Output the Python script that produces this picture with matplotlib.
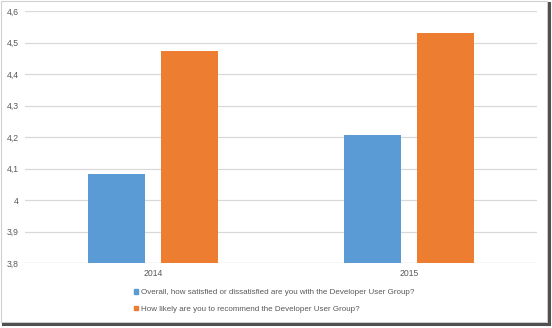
import matplotlib.pyplot as plt
import numpy as np
from matplotlib.patches import Rectangle
from matplotlib.lines import Line2D

plt.rcParams['font.family'] = ['Liberation Sans', 'DejaVu Sans']

years = ['2014', '2015']
satisfied = [4.083, 4.207]
recommend = [4.474, 4.529]
series_names = ['Overall, how satisfied or dissatisfied are you with the Developer User Group?',
                'How likely are you to recommend the Developer User Group?']
yticks = [3.8, 3.9, 4.0, 4.1, 4.2, 4.3, 4.4, 4.5, 4.6]
ytick_labels = ['3,8', '3,9', '4', '4,1', '4,2', '4,3', '4,4', '4,5', '4,6']

blue = '#5b9bd5'
orange = '#ed7d31'

W, H = 552, 328
fig = plt.figure(figsize=(W / 100, H / 100), dpi=100)
ax = fig.add_axes([25 / W, 1 - 263 / H, 512 / W, 252 / H])

x = np.arange(len(years))
w = 0.223
ax.bar(x - 0.142, satisfied, w, color=blue, zorder=3)
ax.bar(x + 0.142, recommend, w, color=orange, zorder=3)

ax.set_xlim(-0.5, 1.5)
ax.set_ylim(3.8, 4.6)
ax.set_yticks(yticks)
ax.set_yticklabels(ytick_labels)
ax.set_xticks(x)
ax.set_xticklabels(years)
ax.tick_params(length=0, labelsize=6.2, colors='#595959', pad=4)
ax.tick_params(axis='y', pad=4.5)
ax.grid(axis='y', color='#d9d9d9', linewidth=0.9, zorder=0)
for s in ax.spines.values():
    s.set_visible(False)
ax.axhline(3.8, color='#d9d9d9', linewidth=0.9, zorder=1)

handles = [Rectangle((0, 0), 1, 1, color=blue), Rectangle((0, 0), 1, 1, color=orange)]
fig.legend(handles, series_names, loc='upper left', bbox_to_anchor=(134 / W, 1 - 289 / H),
           frameon=False, fontsize=5.8, labelcolor='#595959', handlelength=0.55,
           handleheight=0.55, handletextpad=0.35, labelspacing=1.15, borderpad=0, borderaxespad=0)

# border with shadow
fig.add_artist(Rectangle((1 / W, 1 - 322 / H), 546 / W, 321 / H, transform=fig.transFigure,
                         fill=False, edgecolor='#d0d0d0', linewidth=0.8))
fig.add_artist(Line2D([549 / W, 549 / W], [1 - 324 / H, 1 - 3 / H], transform=fig.transFigure,
                      color='#505050', linewidth=2.2))
fig.add_artist(Line2D([3 / W, 549 / W], [1 - 324 / H, 1 - 324 / H], transform=fig.transFigure,
                      color='#505050', linewidth=2.2))

fig.savefig('out.png', dpi=100)
